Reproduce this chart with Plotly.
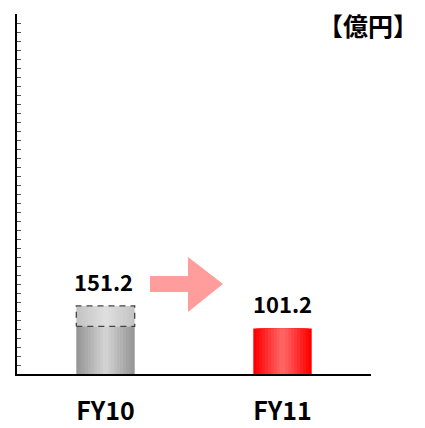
import plotly.graph_objects as go

categories = ["FY10", "FY11"]
totals = [151.2, 101.2]
solid_part = [106.0, 101.2]
dashed_part = [45.2, 0.0]
value_labels = ["151.2", "101.2"]
unit_label = "【億円】"

y_max = 800
y_dtick = 20
bar_w = 0.33
N = 10

# page is rendered with an 8px body margin; work in page pixels and shift
OFF = 8
W_PX, H_PX = 425 - OFF, 428 - OFF
L, T = 17 - OFF, 14 - OFF
R = W_PX - (371 - OFF)
B = H_PX - (374 - OFF)
pw, ph = W_PX - L - R, H_PX - T - B

def lerp(c1, c2, t):
    return "rgb(%d,%d,%d)" % tuple(round(a + (b - a) * t) for a, b in zip(c1, c2))

def PX(px):
    return (px - OFF - L) / pw

def PY(py):
    return (H_PX - B - (py - OFF)) / ph

fig = go.Figure()
xs = list(range(len(categories)))

grad = [
    ((150, 150, 150), (210, 210, 210)),  # gray solid
    ((255, 0, 0), (255, 100, 100)),      # red
]
dash_grad = ((196, 196, 196), (222, 222, 222))

for i, x in enumerate(xs):
    edge, center = grad[i]
    for k in range(N):
        t = k / (N - 1)
        w = bar_w * (1 - k / N)
        fig.add_trace(go.Bar(x=[x], y=[solid_part[i]], width=w,
                             marker=dict(color=lerp(edge, center, t), line=dict(width=0)),
                             showlegend=False, hoverinfo="skip"))
    if dashed_part[i] > 0:
        for k in range(N):
            t = k / (N - 1)
            w = bar_w * (1 - k / N)
            fig.add_trace(go.Bar(x=[x], y=[dashed_part[i]], base=[solid_part[i]], width=w,
                                 marker=dict(color=lerp(dash_grad[0], dash_grad[1], t), line=dict(width=0)),
                                 showlegend=False, hoverinfo="skip"))
        x0, x1 = x - bar_w / 2, x + bar_w / 2
        y0, y1 = solid_part[i], totals[i]
        fig.add_trace(go.Scatter(x=[x0, x1, x1, x0, x0], y=[y0, y0, y1, y1, y0],
                                 mode="lines", line=dict(color="#444", width=1.3, dash="6px,5px"),
                                 showlegend=False, hoverinfo="skip"))

for i, x in enumerate(xs):
    fig.add_annotation(x=x, y=totals[i], text="<b>%s</b>" % value_labels[i], showarrow=False,
                       yanchor="bottom", yshift=7, xshift=-2 if i == 0 else 0,
                       font=dict(family="Noto Sans CJK JP", size=22, color="black"))

fig.add_annotation(x=PX(420), y=PY(25), xref="paper", yref="paper",
                   text="<b>%s</b>" % unit_label,
                   showarrow=False, xanchor="right", yanchor="middle",
                   font=dict(family="Noto Sans CJK JP", size=25, color="black"))

pts = [(150, 276), (188, 276), (188, 257), (223, 284), (188, 312), (188, 292), (150, 292)]
path = "M " + " L ".join("%.4f %.4f" % (PX(a), PY(b)) for a, b in pts) + " Z"
fig.add_shape(type="path", path=path, xref="paper", yref="paper",
              fillcolor="#FF9D9D", line=dict(width=0), layer="above")

fig.update_layout(
    width=W_PX, height=H_PX, barmode="overlay",
    margin=dict(l=L, r=R, t=T, b=B, autoexpand=False),
    plot_bgcolor="white", paper_bgcolor="white",
    showlegend=False,
    xaxis=dict(range=[-0.5, 1.5], tickvals=xs, ticktext=["<b>%s</b>" % c for c in categories],
               showline=True, linecolor="black", linewidth=1.5, showgrid=False, zeroline=False,
               ticks="", ticklabelstandoff=14, automargin=False,
               tickfont=dict(family="Noto Sans CJK JP", size=25, color="black")),
    yaxis=dict(range=[0, y_max], dtick=y_dtick, showline=True, linecolor="black", linewidth=1.5,
               showgrid=False, zeroline=False, ticks="inside", ticklen=4, tickcolor="#555",
               tickwidth=1.3, showticklabels=False, automargin=False),
)

fig.write_html("out.html")
